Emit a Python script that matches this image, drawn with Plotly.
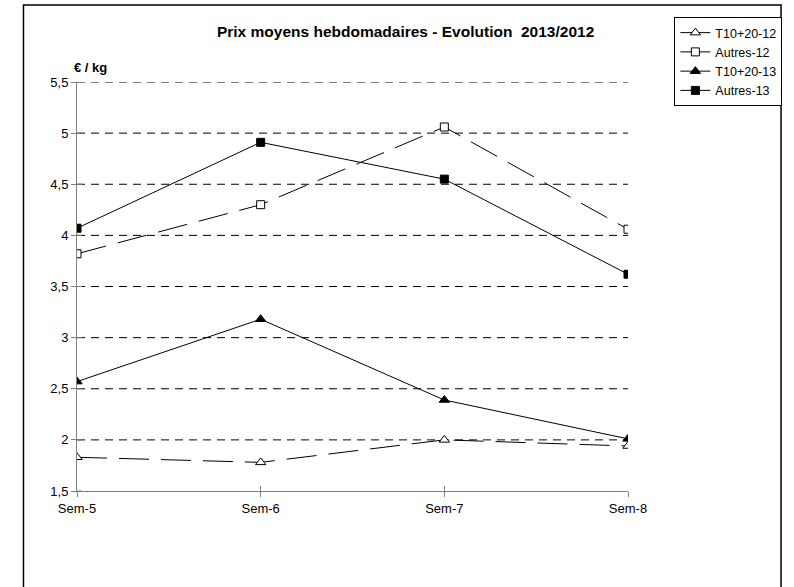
import plotly.graph_objects as go

categories = ["Sem-5", "Sem-6", "Sem-7", "Sem-8"]
t10_12 = [1.83, 1.78, 2.00, 1.94]
autres_12 = [3.82, 4.30, 5.06, 4.06]
t10_13 = [2.57, 3.18, 2.39, 2.01]
autres_13 = [4.07, 4.91, 4.55, 3.62]
y_ticks = [1.5, 2, 2.5, 3, 3.5, 4, 4.5, 5, 5.5]
y_tick_labels = ["1,5", "2", "2,5", "3", "3,5", "4", "4,5", "5", "5,5"]

SX = 1.004  # horizontal compensation for the capture
W, H = 794, 587
L, R, T, B = round(77 * SX), round(629 * SX), 82, 491

def px_x(p):
    return (p * SX - L) / (R - L)

def px_y(p):
    return (B - p) / (B - T)

xs = list(range(len(categories)))

fig = go.Figure()
series = [
    ("T10+20-12", t10_12, "triangle-up", "white", "30px,12px"),
    ("Autres-12", autres_12, "square", "white", "30px,12px"),
    ("T10+20-13", t10_13, "triangle-up", "black", "solid"),
    ("Autres-13", autres_13, "square", "black", "solid"),
]
for name, vals, sym, fill, dash in series:
    fig.add_trace(go.Scatter(
        x=xs, y=vals, name=name, mode="lines+markers",
        line=dict(color="black", width=1, dash=dash),
        marker=dict(symbol=sym, size=9 if "triangle" in sym else 8, color=fill,
                    line=dict(color="black", width=1)),
    ))

fig.add_trace(go.Scatter(x=xs, y=t10_12, xaxis="x2", mode="markers",
                         marker=dict(opacity=0), showlegend=False, hoverinfo="skip"))

fig.update_layout(
    width=W, height=H, autosize=False,
    margin=dict(l=L, r=W - R, t=T, b=H - B),
    paper_bgcolor="white", plot_bgcolor="white",
    font=dict(family="Liberation Sans, Arial, sans-serif", size=13, color="black"),
    title=dict(text="<b>Prix moyens hebdomadaires - Evolution&nbsp; 2013/2012</b>",
               x=404 * SX / W, xanchor="center",
               y=1 - 32 / H, yanchor="middle", font=dict(size=15.5)),
    xaxis=dict(range=[0, 3], tickvals=xs, ticktext=categories, showgrid=False,
               zeroline=False, showline=True, linecolor="#808080", linewidth=1,
               ticks="outside", ticklen=5, tickcolor="#808080", tickfont=dict(size=13)),
    xaxis2=dict(range=[0, 3], tickvals=xs, overlaying="x", side="bottom",
                showticklabels=False, ticks="inside", ticklen=5, tickcolor="#808080",
                showgrid=False, zeroline=False, showline=False, anchor="y"),
    yaxis=dict(range=[1.5, 5.5], tickvals=y_ticks, ticktext=y_tick_labels,
               showgrid=False, zeroline=False, showline=True, linecolor="#808080",
               linewidth=1, ticks="outside", ticklen=5, tickcolor="#808080",
               tickfont=dict(size=13)),
    legend=dict(x=px_x(676), y=px_y(17), xanchor="left", yanchor="top",
                bordercolor="black", borderwidth=1, bgcolor="white",
                font=dict(size=12.5), tracegroupgap=0, itemwidth=30),
    showlegend=True,
)

for v in y_ticks[1:]:
    fig.add_shape(type="line", xref="x", yref="y", x0=0, x1=3, y0=v, y1=v,
                  line=dict(color="black", width=1, dash="8px,6px"), layer="below")

for v in y_ticks:
    fig.add_shape(type="line", xref="paper", yref="y", x0=0, x1=5 / (R - L), y0=v, y1=v,
                  line=dict(color="#808080", width=1))

fig.add_shape(type="rect", xref="paper", yref="paper",
              x0=px_x(23), x1=px_x(783), y0=px_y(600), y1=px_y(5),
              line=dict(color="black", width=1.5), fillcolor="rgba(0,0,0,0)", layer="below")

fig.add_annotation(text="<b>€ / kg</b>", xref="paper", yref="paper",
                   x=px_x(72), y=px_y(68), xanchor="left", yanchor="middle",
                   showarrow=False, font=dict(size=13))

fig.write_html(
    "out.html",
    config={"displayModeBar": False, "responsive": False},
    post_script=("var gd=document.getElementById('{plot_id}');"
                 "document.documentElement.style.overflow='hidden';"
                 "document.body.style.overflow='hidden';"
                 "document.body.style.margin='0';"
                 "gd.style.position='absolute';gd.style.left='0px';gd.style.top='0px';"),
)
